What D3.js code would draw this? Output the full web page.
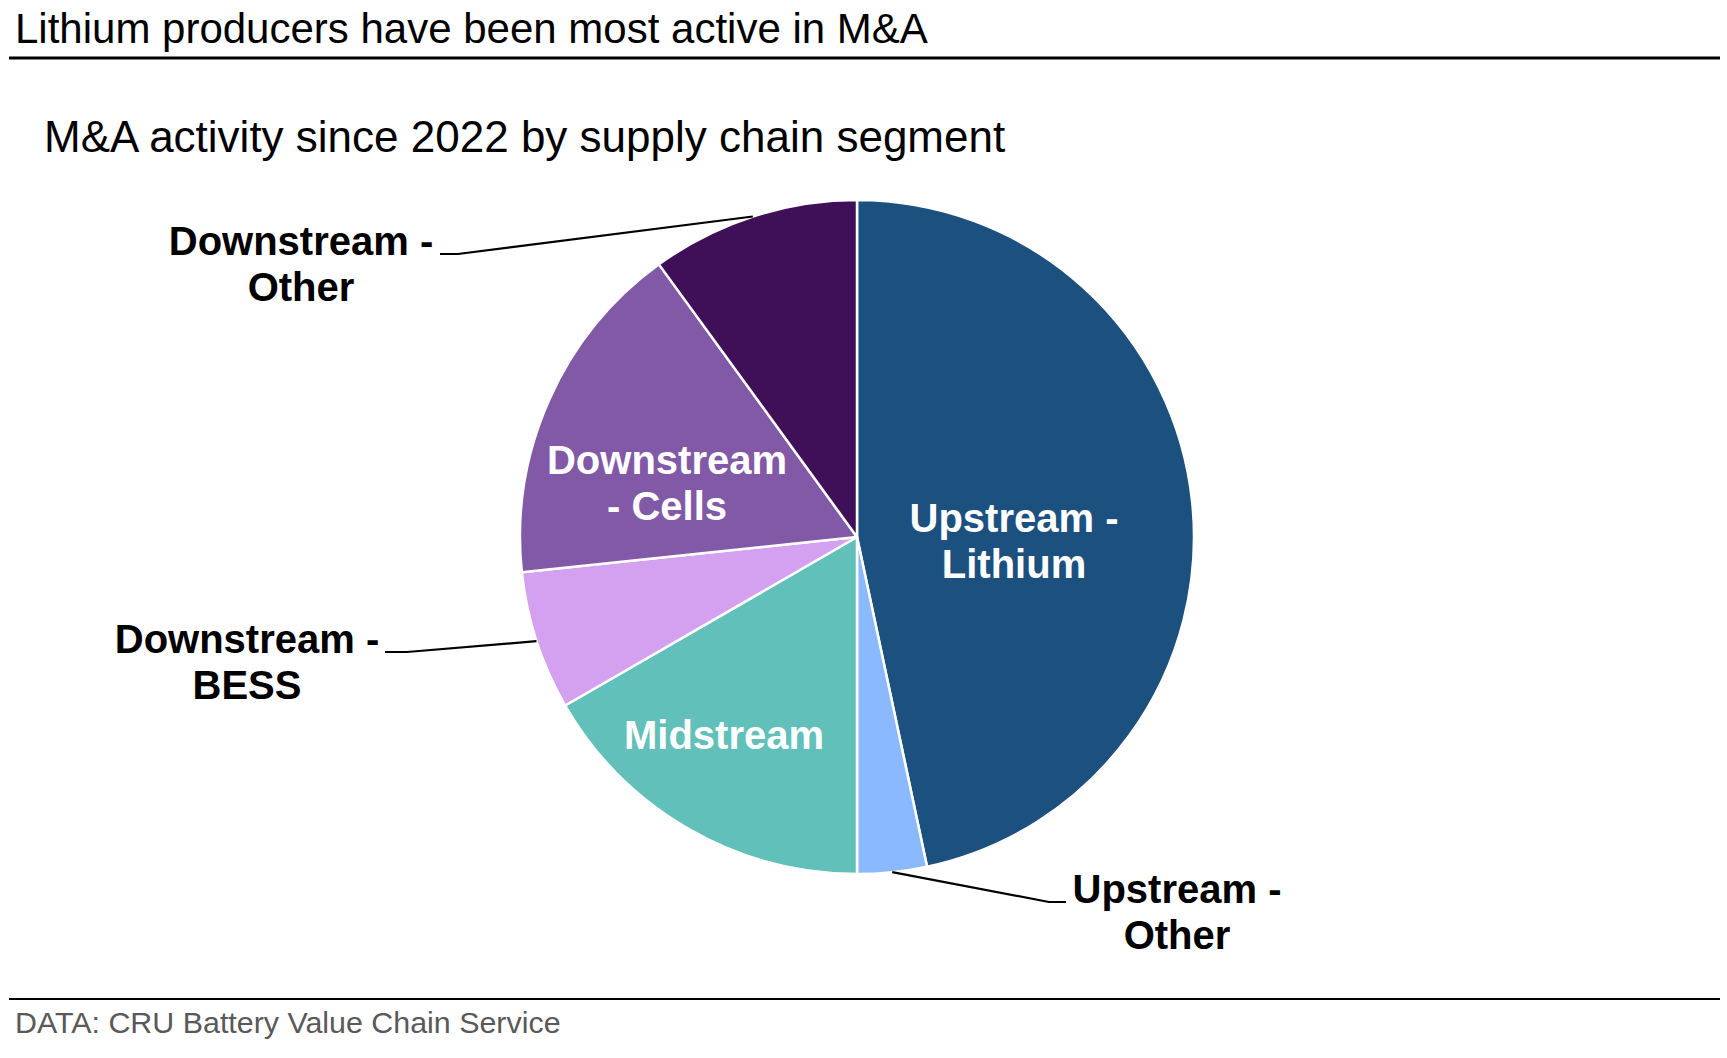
<!DOCTYPE html>
<html>
<head>
<meta charset="utf-8">
<script src="https://cdn.jsdelivr.net/npm/d3@7"></script>
<style>
  html, body { margin: 0; padding: 0; background: #fff; }
  svg { display: block; font-family: "Liberation Sans", Arial, Helvetica, sans-serif; }
</style>
</head>
<body>
<svg id="chart" width="1727" height="1058"></svg>
<script>
// ---- Data ----
const categories = ["Upstream - Lithium", "Upstream - Other", "Midstream", "Downstream - BESS", "Downstream - Cells", "Downstream - Other"];
const dealCounts = [14, 1, 5, 2, 5, 3];
const labelLines = [["Upstream -", "Lithium"], ["Upstream -", "Other"], ["Midstream"], ["Downstream -", "BESS"], ["Downstream", "- Cells"], ["Downstream -", "Other"]];
const sliceColors = ["#1B507F", "#8BB9FF", "#62C0BA", "#D4A0F0", "#8159A6", "#3F0F58"];

const titleText = "Lithium producers have been most active in M&A";
const subtitleText = "M&A activity since 2022 by supply chain segment";
const sourceText = "DATA: CRU Battery Value Chain Service";

// ---- Layout ----
const W = 1727, H = 1058;
const cx = 857, cy = 537, R = 337;
const labelLayout = [
  { inside: true,  x: 1014, y: 532 },
  { inside: false, x: 1177, y: 903, elbowX: 1049, endX: 1066 },
  { inside: true,  x: 724,  y: 749 },
  { inside: false, x: 247,  y: 653, elbowX: 407, endX: 385 },
  { inside: true,  x: 667,  y: 474 },
  { inside: false, x: 301,  y: 255, elbowX: 458, endX: 440 }
];
const lineGap = 46;

const svg = d3.select("#chart");

// Title & rules
svg.append("text").attr("x", 15).attr("y", 43)
  .attr("font-size", 42).attr("fill", "#000").text(titleText);
svg.append("line").attr("x1", 9).attr("x2", 1720).attr("y1", 58).attr("y2", 58)
  .attr("stroke", "#000").attr("stroke-width", 3);
svg.append("text").attr("x", 44).attr("y", 152)
  .attr("font-size", 44).attr("fill", "#000").text(subtitleText);

svg.append("line").attr("x1", 9).attr("x2", 1720).attr("y1", 999).attr("y2", 999)
  .attr("stroke", "#000").attr("stroke-width", 2.2);
svg.append("text").attr("x", 15).attr("y", 1033)
  .attr("font-size", 30.4).attr("fill", "#595959").text(sourceText);

// Pie
const data = categories.map((c, i) => ({ name: c, value: dealCounts[i], lines: labelLines[i], color: sliceColors[i], layout: labelLayout[i] }));
const pie = d3.pie().value(d => d.value).sort(null);
const arcs = pie(data);
const arc = d3.arc().innerRadius(0).outerRadius(R);
const edgeArc = d3.arc().innerRadius(R).outerRadius(R);

const g = svg.append("g").attr("transform", `translate(${cx},${cy})`);
g.selectAll("path.slice").data(arcs).join("path")
  .attr("class", "slice")
  .attr("d", arc)
  .attr("fill", d => d.data.color)
  .attr("stroke", "#fff")
  .attr("stroke-width", 2.5)
  .attr("stroke-linejoin", "round");

// Leader lines
arcs.filter(d => !d.data.layout.inside).forEach(d => {
  const [ex, ey] = edgeArc.centroid(d);
  const L = d.data.layout;
  const ly = L.y - 1;
  const pts = [[cx + ex, cy + ey], [L.elbowX, ly], [L.endX, ly]];
  svg.append("path")
    .attr("d", d3.line()(pts))
    .attr("fill", "none").attr("stroke", "#000").attr("stroke-width", 2.2);
});

// Labels
arcs.forEach(d => {
  const L = d.data.layout;
  const t = svg.append("text")
    .attr("text-anchor", "middle")
    .attr("font-size", 40)
    .attr("font-weight", "bold")
    .attr("fill", L.inside ? "#fff" : "#000");
  d.data.lines.forEach((line, i) => {
    t.append("tspan").attr("x", L.x).attr("y", L.y + i * lineGap).text(line);
  });
});
</script>
</body>
</html>
